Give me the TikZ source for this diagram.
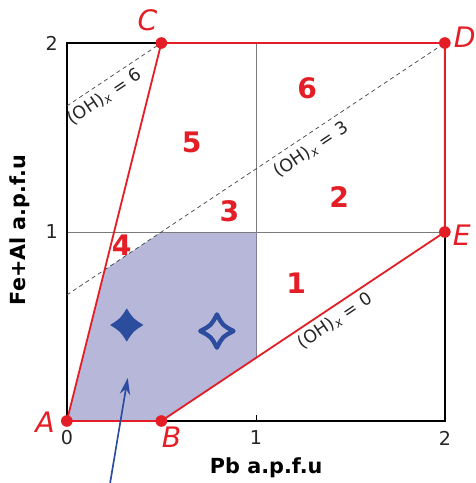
\documentclass[tikz,border=0pt]{standalone}
\usepackage{fontspec}
\setmainfont{DejaVu Sans}
\usetikzlibrary{arrows.meta,positioning,calc}
\definecolor{rouge}{HTML}{E41E26}
\definecolor{lavande}{HTML}{B7B7DA}
\definecolor{bleu}{HTML}{2C4C9E}
\definecolor{gris}{HTML}{7A7A7A}
\tikzset{
  sommet/.style={circle,fill=rouge,inner sep=0pt,minimum size=7pt},
  lettre/.style={text=rouge,font=\fontsize{17}{17}\selectfont\itshape},
  zone/.style={text=rouge,font=\fontsize{17}{17}\selectfont\bfseries},
  graduation/.style={font=\fontsize{11.5}{12}\selectfont,text=black!85},
  isoligne/.style={dashed,thin,black!75,dash pattern=on 2.5pt off 2pt},
  etiquette/.style={font=\fontsize{10.5}{11}\selectfont,text=black!85,rotate=33.69,inner sep=1pt},
  fleche/.style={-{Stealth[length=3.5mm,width=2.2mm]},line width=1pt,color=bleu},
}
\newcommand\ohx[1]{(OH)\textsubscript{\itshape x} = #1}
\begin{document}
\begin{tikzpicture}[x=4cm,y=4cm]
  \useasboundingbox (-0.3536,-0.328) rectangle (2.1636,2.2275);
  % sommets du domaine
  \coordinate (A) at (0,0);
  \coordinate (B) at (0.5,0);
  \coordinate (C) at (0.5,2);
  \coordinate (D) at (2,2);
  \coordinate (E) at (2,1);
  % zone grisee
  \fill[lavande] (0,0) -- (0.2,0.8) -- (0.5,1) -- (1,1) -- (1,1/3) -- (B) -- cycle;
  \draw[gris,thin] (0,1) -- (2,1);
  \draw[gris,thin] (1,1) -- (1,2);
  \draw[lavande!70!black,thin] (1,1) -- (1,1/3);
  \draw[black,line width=1.1pt] (0,0) rectangle (2,2);
  \draw[black,thin] (1,0) -- (1,0.03);
  % lignes (OH)x
  \draw[isoligne] (B) -- (E);
  \draw[isoligne] (0,2/3) -- (D);
  \draw[isoligne] (0,5/3) -- (C);
  % domaine
  \draw[rouge,line width=1.1pt] (A) -- (B) -- (E) -- (D) -- (C) -- cycle;
  \foreach \p in {A,B,C,D,E} \node[sommet] (s\p) at (\p) {};
  \node[lettre] (lA) at (-0.116,-0.005) {A};
  \node[lettre] (lB) at (0.554,-0.085) {B};
  \node[lettre] (lC) at (0.427,2.122) {C};
  \node[lettre] (lD) at (2.105,2.032) {D};
  \node[lettre] (lE) at (2.09,0.984) {E};
  % numeros des zones
  \foreach \n/\x/\y in {1/1.214/0.730,2/1.441/1.185,3/0.860/1.111,4/0.290/0.931,5/0.660/1.476,6/1.272/1.762}
    \node[zone] (z\n) at (\x,\y) {\n};
  % etiquettes des isolignes
  \node[etiquette] (oh6) at (0.2,1.714) {\ohx{6}};
  \node[etiquette] (oh3) at (1.293,1.434) {\ohx{3}};
  \node[etiquette] (oh0) at (1.42,0.529) {\ohx{0}};
  % axes
  \node[graduation] (x0) at (0,-0.09) {0};
  \node[graduation] (x1) at (1,-0.09) {1};
  \node[graduation] (x2) at (2,-0.09) {2};
  \node[graduation] (y1) at (-0.08,1) {1};
  \node[graduation] (y2) at (-0.08,2) {2};
  \node[font=\fontsize{12.5}{13}\selectfont\bfseries] (axex) at (1.055,-0.249) {Pb a.p.f.u};
  \node[font=\fontsize{12.5}{13}\selectfont\bfseries,rotate=90] (axey) at (-0.248,1.01) {Fe+Al a.p.f.u};
  % etoiles
  \coordinate (et1) at (0.317,0.508);
  \coordinate (et2) at (0.794,0.476);
  \fill[bleu] ($(et1)+(0.088,0)$) .. controls ($(et1)+(0.034,0.034)$) .. ($(et1)+(0,0.088)$)
    .. controls ($(et1)+(-0.034,0.034)$) .. ($(et1)+(-0.088,0)$)
    .. controls ($(et1)+(-0.034,-0.034)$) .. ($(et1)+(0,-0.088)$)
    .. controls ($(et1)+(0.034,-0.034)$) .. cycle;
  \draw[bleu,line width=2.6pt,line join=round] ($(et2)+(0.088,0)$) .. controls ($(et2)+(0.03,0.03)$) .. ($(et2)+(0,0.088)$)
    .. controls ($(et2)+(-0.03,0.03)$) .. ($(et2)+(-0.088,0)$)
    .. controls ($(et2)+(-0.03,-0.03)$) .. ($(et2)+(0,-0.088)$)
    .. controls ($(et2)+(0.03,-0.03)$) .. cycle;
  % fleche
  \coordinate (pied) at (0.227,-0.34);
  \coordinate (pointe) at (0.322,0.2275);
  \draw[fleche] (pied) -- (pointe);
\end{tikzpicture}
\end{document}
